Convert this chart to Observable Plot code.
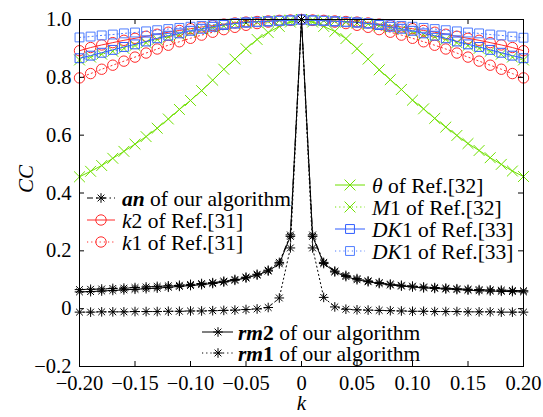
<!DOCTYPE html>
<html>
<head>
<meta charset="utf-8">
<script src="https://cdn.jsdelivr.net/npm/d3@7"></script>
<script src="https://cdn.jsdelivr.net/npm/@observablehq/plot@0.6"></script>
<style>
  html, body { margin: 0; padding: 0; background: white; }
  svg { display: block; }
</style>
</head>
<body>
<div id="chart"></div>
<script>
const kVals = [-0.20,-0.19,-0.18,-0.17,-0.16,-0.15,-0.14,-0.13,-0.12,-0.11,-0.10,-0.09,-0.08,-0.07,-0.06,-0.05,-0.04,-0.03,-0.02,-0.01,0,
  0.01,0.02,0.03,0.04,0.05,0.06,0.07,0.08,0.09,0.10,0.11,0.12,0.13,0.14,0.15,0.16,0.17,0.18,0.19,0.20];

const anOurs = [0.066,0.067,0.068,0.070,0.071,0.073,0.075,0.077,0.079,0.081,0.084,0.087,0.090,0.095,0.101,0.109,0.119,0.133,0.160,0.255,1.000,
  0.255,0.160,0.130,0.115,0.104,0.096,0.090,0.085,0.081,0.078,0.075,0.073,0.071,0.069,0.067,0.066,0.065,0.064,0.063,0.062];
const k2Ref31 = [0.892,0.903,0.912,0.920,0.928,0.935,0.942,0.949,0.956,0.962,0.968,0.974,0.979,0.984,0.988,0.991,0.993,0.995,0.997,0.998,1.000,
  0.998,0.997,0.995,0.993,0.991,0.988,0.984,0.979,0.974,0.968,0.962,0.956,0.949,0.942,0.935,0.928,0.920,0.912,0.903,0.892];
const k1Ref31 = [0.798,0.813,0.828,0.842,0.856,0.870,0.884,0.898,0.911,0.923,0.935,0.946,0.956,0.965,0.973,0.980,0.986,0.991,0.994,0.997,1.000,
  0.997,0.994,0.991,0.986,0.980,0.973,0.965,0.956,0.946,0.935,0.923,0.911,0.898,0.884,0.870,0.856,0.842,0.828,0.813,0.798];
const thetaRef32 = [0.456,0.475,0.495,0.520,0.544,0.569,0.595,0.624,0.656,0.689,0.720,0.754,0.790,0.828,0.863,0.899,0.931,0.955,0.976,0.991,1.000,
  0.991,0.976,0.959,0.934,0.899,0.863,0.826,0.792,0.758,0.721,0.691,0.658,0.628,0.599,0.571,0.547,0.522,0.499,0.476,0.457];
const m1Ref32 = [0.860,0.870,0.880,0.890,0.900,0.910,0.920,0.931,0.940,0.948,0.957,0.965,0.972,0.978,0.984,0.988,0.991,0.994,0.996,0.998,1.000,
  0.998,0.996,0.994,0.991,0.988,0.984,0.978,0.972,0.965,0.957,0.948,0.940,0.931,0.920,0.910,0.900,0.890,0.880,0.870,0.860];
const dk1SolidRef33 = [0.866,0.875,0.885,0.895,0.905,0.914,0.924,0.935,0.944,0.952,0.961,0.968,0.975,0.981,0.986,0.990,0.992,0.994,0.996,0.997,1.000,
  0.997,0.996,0.994,0.992,0.990,0.986,0.981,0.975,0.968,0.961,0.952,0.944,0.935,0.924,0.914,0.905,0.895,0.885,0.875,0.866];
const dk1DottedRef33 = [0.938,0.941,0.945,0.948,0.952,0.955,0.959,0.963,0.967,0.971,0.975,0.978,0.982,0.985,0.987,0.989,0.991,0.993,0.995,0.997,1.000,
  0.997,0.995,0.993,0.991,0.989,0.987,0.985,0.982,0.978,0.975,0.971,0.967,0.963,0.959,0.955,0.952,0.948,0.945,0.941,0.937];
const rm2Ours = [0.058,0.059,0.061,0.063,0.065,0.067,0.069,0.071,0.074,0.077,0.080,0.083,0.087,0.092,0.098,0.106,0.116,0.130,0.155,0.250,1.000,
  0.250,0.156,0.127,0.111,0.100,0.093,0.087,0.082,0.078,0.075,0.072,0.070,0.068,0.066,0.064,0.062,0.061,0.060,0.059,0.058];
const rm1Ours = [-0.012,-0.012,-0.011,-0.011,-0.011,-0.010,-0.010,-0.010,-0.009,-0.009,-0.008,-0.008,-0.007,-0.006,-0.005,-0.003,-0.001,0.004,0.037,0.210,1.000,
  0.210,0.039,0.006,-0.002,-0.004,-0.005,-0.006,-0.007,-0.008,-0.009,-0.009,-0.010,-0.010,-0.010,-0.011,-0.011,-0.011,-0.012,-0.012,-0.012];

const xTicks = [-0.20,-0.15,-0.10,-0.05,0,0.05,0.10,0.15,0.20];
const xTickLabels = ["\u22120.20","\u22120.15","\u22120.10","\u22120.05","0","0.05","0.10","0.15","0.20"];
const yTicks = [-0.2,0,0.2,0.4,0.6,0.8,1.0];
const yTickLabels = ["\u22120.2","0","0.2","0.4","0.6","0.8","1.0"];

const GREEN = "#6fe000", RED = "#ff2a2a", BLUE = "#2f5cff", BLUE2 = "#4f7dff", BLACK = "#000";
const DOT = "1.2,3", DASHDOT = "6,3,1.5,3";
const FONT = "'Liberation Serif', 'Times New Roman', Times, 'DejaVu Serif', serif";

const star = {
  draw(ctx, size) {
    const r = Math.sqrt(size / Math.PI), d = r * Math.SQRT1_2;
    ctx.moveTo(-r, 0); ctx.lineTo(r, 0);
    ctx.moveTo(0, -r); ctx.lineTo(0, r);
    ctx.moveTo(-d, -d); ctx.lineTo(d, d);
    ctx.moveTo(-d, d); ctx.lineTo(d, -d);
  }
};

const series = [
  {vals: anOurs, color: BLACK, dash: DASHDOT, symbol: star, r: 4.8},
  {vals: k2Ref31, color: RED, dash: null, symbol: "circle", r: 5.2},
  {vals: k1Ref31, color: RED, dash: DOT, symbol: "circle", r: 5.2},
  {vals: thetaRef32, color: GREEN, dash: null, symbol: "times", r: 5},
  {vals: m1Ref32, color: GREEN, dash: DOT, symbol: "times", r: 5},
  {vals: dk1SolidRef33, color: BLUE, dash: null, symbol: "square", r: 5},
  {vals: dk1DottedRef33, color: BLUE2, dash: DOT, symbol: "square", r: 5},
  {vals: rm2Ours, color: BLACK, dash: null, symbol: star, r: 4.8},
  {vals: rm1Ours, color: BLACK, dash: DOT, symbol: star, r: 4.8}
];

const W = 543, H = 417, ML = 79, MR = 20, MT = 19, MB = 51;
const PW = W - ML - MR, PH = H - MT - MB;
const TICK = 5;

const marks = [];
for (const s of series) {
  const data = kVals.map((k, i) => ({k, v: s.vals[i]}));
  marks.push(Plot.line(data, {x: "k", y: "v", stroke: s.color, strokeWidth: 1, strokeDasharray: s.dash}));
  marks.push(Plot.dot(data, {x: "k", y: "v", symbol: () => s.symbol, r: s.r, stroke: s.color, fill: "none", strokeWidth: 1}));
}

const xLab = new Map(xTicks.map((t, i) => [t, xTickLabels[i]]));
const yLab = new Map(yTicks.map((t, i) => [t, yTickLabels[i]]));

const chart = Plot.plot({
  width: W, height: H,
  marginLeft: ML, marginRight: MR, marginTop: MT, marginBottom: MB,
  style: {fontFamily: FONT, fontSize: "20px", background: "white", color: "black"},
  x: {domain: [-0.2, 0.2]},
  y: {domain: [-0.2, 1.0]},
  symbol: {type: "identity"},
  marks: [
    ...marks,
    Plot.frame({stroke: "black", strokeWidth: 1}),
    Plot.ruleX(xTicks, {x: d => d, insetTop: PH - TICK, stroke: "black"}),
    Plot.ruleX(xTicks, {x: d => d, insetBottom: PH - TICK, stroke: "black"}),
    Plot.ruleY(yTicks, {y: d => d, insetRight: PW - TICK, stroke: "black"}),
    Plot.ruleY(yTicks, {y: d => d, insetLeft: PW - TICK, stroke: "black"}),
    Plot.axisX(xTicks, {tickSize: 0, tickPadding: 9, tickFormat: d => xLab.get(d), label: null, fontSize: 20.5, fontFamily: FONT}),
    Plot.axisY(yTicks, {tickSize: 0, tickPadding: 8, tickFormat: d => yLab.get(d), label: null, fontSize: 20.5, fontFamily: FONT}),
    Plot.text(["k"], {frameAnchor: "bottom", dy: 43, fontStyle: "italic", fontSize: 21, fontFamily: FONT}),
    Plot.text(["CC"], {frameAnchor: "left", dx: -53, rotate: -90, fontStyle: "italic", fontSize: 21, fontFamily: FONT})
  ]
});

document.getElementById("chart").appendChild(chart);

// Legends
const svg = d3.select(chart);
const g = svg.append("g").attr("font-family", FONT).attr("font-size", 21.5).attr("text-anchor", "start");

function legendEntry(x0, x1, xm, xt, y, s, parts) {
  g.append("line").attr("x1", x0).attr("x2", x1).attr("y1", y).attr("y2", y)
    .attr("stroke", s.color).attr("stroke-width", 1).attr("stroke-dasharray", s.dash);
  const symType = s.symbol === "circle" ? d3.symbolCircle : s.symbol === "times" ? d3.symbolTimes : s.symbol === "square" ? d3.symbolSquare : s.symbol;
  g.append("path").attr("d", d3.symbol(symType, s.r * s.r * Math.PI)()).attr("transform", `translate(${xm},${y})`)
    .attr("fill", "none").attr("stroke", s.color).attr("stroke-width", 1);
  const t = g.append("text").attr("x", xt).attr("y", y).attr("dy", "0.35em").attr("fill", "black")
    .attr("text-anchor", "start").attr("font-family", FONT);
  for (const p of parts) {
    const sp = t.append("tspan").text(p.t);
    if (p.i) sp.attr("font-style", "italic");
    if (p.b) sp.attr("font-weight", "bold");
  }
}

legendEntry(87, 115, 101, 122, 198, series[0], [{t: "an", i: 1, b: 1}, {t: " of our algorithm"}]);
legendEntry(87, 115, 101, 122, 220, series[1], [{t: "k", i: 1}, {t: "2 of Ref.[31]"}]);
legendEntry(87, 115, 101, 122, 242, series[2], [{t: "k", i: 1}, {t: "1 of Ref.[31]"}]);

legendEntry(335, 365, 350, 372, 185, series[3], [{t: "\u03b8", i: 1}, {t: " of Ref.[32]"}]);
legendEntry(335, 365, 350, 372, 207, series[4], [{t: "M", i: 1}, {t: "1 of Ref.[32]"}]);
legendEntry(335, 365, 350, 372, 229, series[5], [{t: "DK", i: 1}, {t: "1 of Ref.[33]"}]);
legendEntry(335, 365, 350, 372, 251, series[6], [{t: "DK", i: 1}, {t: "1 of Ref.[33]"}]);

legendEntry(202, 233, 218, 238, 332, series[7], [{t: "rm", i: 1, b: 1}, {t: "2", b: 1}, {t: " of our algorithm"}]);
legendEntry(202, 233, 218, 238, 353, series[8], [{t: "rm", i: 1, b: 1}, {t: "1", b: 1}, {t: " of our algorithm"}]);
</script>
</body>
</html>
